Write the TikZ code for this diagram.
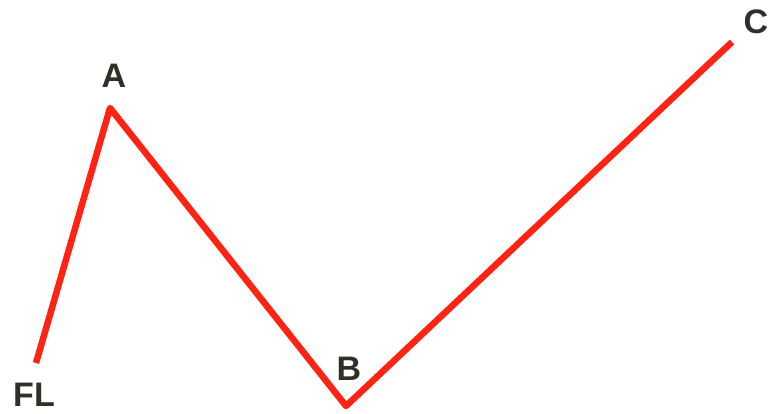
\documentclass[tikz,border=0pt]{standalone}
\usepackage{fontspec}
\setmainfont{Liberation Sans}
\usepackage{xcolor}
\usetikzlibrary{positioning}
\definecolor{WaveRed}{RGB}{255, 35, 20}
\definecolor{LabelGray}{RGB}{48, 48, 40}

\begin{document}
\begin{tikzpicture}[
            x=1pt, y=-1pt,
            wave/.style={draw=WaveRed, line width=6.5pt, line join=round, line cap=butt},
            lbl/.style={text=LabelGray, font=\bfseries\fontsize{34}{40}\selectfont, inner sep=0pt}
        ]
        \useasboundingbox (0,0) rectangle (769,414);

        % The swing points
        \coordinate (pFL) at (36,363);
        \coordinate (pA) at (110,108);
        \coordinate (pB) at (346,406);
        \coordinate (pC) at (732,42);

        % The wave
        \draw[wave] (pFL) -- (pA) -- (pB) -- (pC);

        % Labels
        \node[lbl] (tFL) at (34,395) {FL};
        \node[lbl] (tA) at (114,76) {A};
        \node[lbl] (tB) at (349,369) {B};
        \node[lbl] (tC) at (756,22) {C};

        \end{tikzpicture}
\end{document}
